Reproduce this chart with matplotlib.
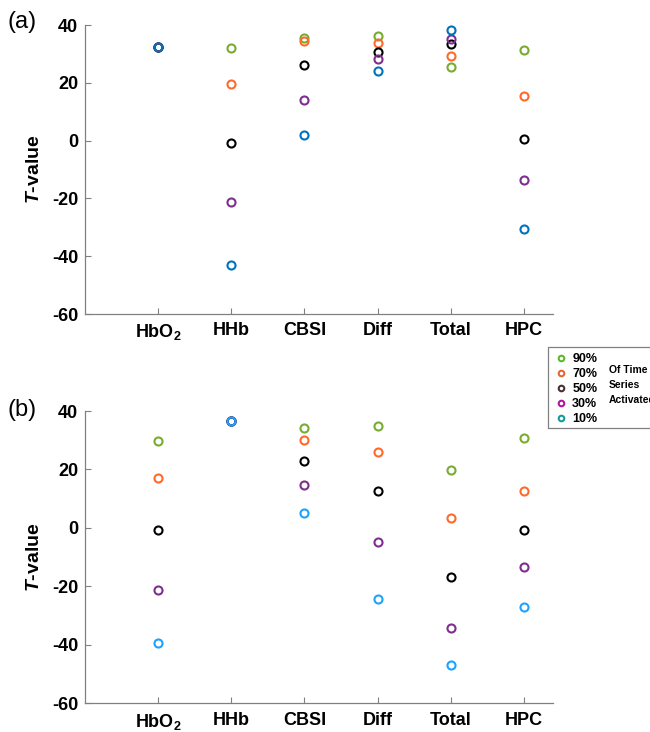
import matplotlib
matplotlib.use('Agg')
import matplotlib.pyplot as plt
from matplotlib.patches import Rectangle
from matplotlib.lines import Line2D

plt.rcParams['font.family'] = ['Liberation Sans', 'DejaVu Sans']
plt.rcParams['mathtext.fontset'] = 'custom'
plt.rcParams['mathtext.rm'] = 'Liberation Sans:bold'
plt.rcParams['mathtext.bf'] = 'Liberation Sans:bold'
plt.rcParams['mathtext.it'] = 'Liberation Sans:italic:bold'
plt.rcParams['axes.unicode_minus'] = False

categories = [r'HbO$_2$', 'HHb', 'CBSI', 'Diff', 'Total', 'HPC']
levels = ['90%', '70%', '50%', '30%', '10%']

# panel (a) T-values per level, one value per category
a_90 = [32.5, 32.2, 35.6, 36.1, 25.6, 31.3]
a_70 = [32.5, 19.7, 34.4, 33.8, 29.3, 15.4]
a_50 = [32.5, -0.8, 26.0, 30.7, 33.4, 0.4]
a_30 = [32.5, -21.2, 14.1, 28.3, 35.2, -13.7]
a_10 = [32.5, -43.1, 1.8, 24.2, 38.4, -30.7]

# panel (b)
b_90 = [29.8, 36.5, 34.1, 35.0, 19.8, 30.7]
b_70 = [17.1, 36.5, 30.0, 25.9, 3.4, 12.8]
b_50 = [-0.8, 36.5, 22.9, 12.7, -16.7, -0.8]
b_30 = [-21.1, 36.5, 14.7, -4.9, -34.4, -13.3]
b_10 = [-39.5, 36.5, 5.0, -24.4, -47.0, -26.9]

colors_a = ['#77AC30', '#FF6A2B', '#000000', '#7E2F8E', '#0072BD']
colors_b = ['#77AC30', '#FF6A2B', '#000000', '#7E2F8E', '#1AA3FF']
legend_colors = ['#5DB82E', '#E8652E', '#4A3030', '#B0179E', '#1A9A9A']

fig = plt.figure(figsize=(6.5, 7.32), dpi=100)
ax_a = fig.add_axes([0.1308, 0.571, 0.72, 0.3948])
ax_b = fig.add_axes([0.1308, 0.0392, 0.72, 0.3993])

x = list(range(1, len(categories) + 1))


def draw_panel(ax, series, colors):
    for vals, c in zip(series, colors):
        ax.plot(x, vals, linestyle='none', marker='o', markersize=5.8,
                markerfacecolor='none', markeredgecolor=c, markeredgewidth=1.5)
    ax.set_xlim(0, 6.4)
    ax.set_ylim(-60, 40)
    ax.set_yticks([-60, -40, -20, 0, 20, 40])
    ax.set_xticks(x)
    ax.set_xticklabels(categories)
    for lab in ax.get_xticklabels() + ax.get_yticklabels():
        lab.set_fontweight('bold')
        lab.set_fontsize(13)
    ax.tick_params(direction='in', length=4, color='#808080', width=0.8)
    ax.tick_params(axis='x', pad=6)
    ax.tick_params(axis='y', pad=5)
    for s in ['top', 'right']:
        ax.spines[s].set_visible(False)
    for s in ['left', 'bottom']:
        ax.spines[s].set_color('#808080')
        ax.spines[s].set_linewidth(0.9)
    ax.set_ylabel(r'$T$-value', fontsize=14, fontweight='bold', labelpad=6)


draw_panel(ax_a, [a_90, a_70, a_50, a_30, a_10], colors_a)
draw_panel(ax_b, [b_90, b_70, b_50, b_30, b_10], colors_b)

fig.text(0.012, 1 - 22 / 732, '(a)', fontsize=17, va='center')
fig.text(0.012, 1 - 410 / 732, '(b)', fontsize=17, va='center')

# legend box
fig.patches.append(Rectangle((548 / 650, 1 - 428 / 732), 110 / 650, 81 / 732,
                             transform=fig.transFigure, fill=False,
                             edgecolor='#808080', linewidth=0.9))
handles = [Line2D([], [], linestyle='none', marker='o', markersize=4,
                  markerfacecolor='none', markeredgecolor=c, markeredgewidth=1.5)
           for c in legend_colors]
fig.legend(handles, levels, loc='upper left', bbox_to_anchor=(546 / 650, 1 - 343 / 732),
           frameon=False, prop={'weight': 'bold', 'size': 9}, handlelength=0.8,
           handletextpad=0.5, labelspacing=0.25, borderpad=0.3)
fig.text(609 / 650, 1 - 385 / 732, 'Of Time\nSeries\nActivated', fontsize=7.5,
         fontweight='bold', va='center', ha='left', linespacing=1.6)

fig.savefig('out.png', dpi=100)
